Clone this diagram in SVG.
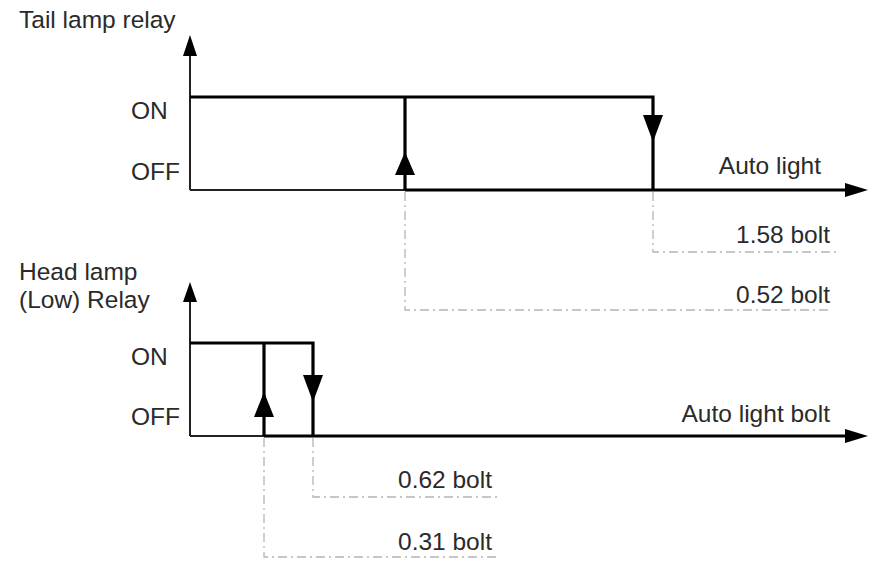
<svg xmlns="http://www.w3.org/2000/svg" width="880" height="573" viewBox="0 0 880 573">
<style>
text{font-family:"Liberation Sans",Arial,sans-serif;font-size:24.5px;fill:#2a2a2a}
.r{text-anchor:end}
.axis{stroke:#222;stroke-width:2;fill:none}
.sig{stroke:#000;stroke-width:3.2;fill:none}
.dd{stroke:#b4b4b4;stroke-width:1.3;fill:none;stroke-dasharray:9 4 2 4}
.ah{fill:#000}
</style>
<rect width="880" height="573" fill="#fff"/>
<g id="labels">
<text x="19" y="28">Tail lamp relay</text>
<text x="131" y="119">ON</text>
<text x="131" y="180">OFF</text>
<text class="r" x="821" y="174">Auto light</text>
<text class="r" x="830" y="243">1.58 bolt</text>
<text class="r" x="830" y="303">0.52 bolt</text>
<text x="19" y="280">Head lamp</text>
<text x="19" y="308">(Low) Relay</text>
<text x="131" y="365">ON</text>
<text x="131" y="425">OFF</text>
<text class="r" x="830" y="422">Auto light bolt</text>
<text class="r" x="492" y="488">0.62 bolt</text>
<text class="r" x="492" y="550">0.31 bolt</text>
</g>
<g id="connectors">
<!-- top chart axes -->
<path class="axis" d="M190 190V50M190 190H850"/>
<polygon class="ah" points="190,35 183,56 197,56"/>
<polygon class="ah" points="868,190 845,183 845,197"/>
<path class="sig" d="M190 97H653V190M405 97V190M405 190H846"/>
<polygon class="ah" points="405,152 395,175 415,175"/>
<polygon class="ah" points="653,142 643,115 663,115"/>
<path class="dd" d="M405 192V310H832M653 192V252H838"/>
<!-- bottom chart axes -->
<path class="axis" d="M190 436V296M190 436H850"/>
<polygon class="ah" points="190,282 183,302 197,302"/>
<polygon class="ah" points="868,436 845,429 845,443"/>
<path class="sig" d="M190 343H313V436M264 343V436M264 436H846"/>
<polygon class="ah" points="264,392 254,417 274,417"/>
<polygon class="ah" points="313,402 303,375 323,375"/>
<path class="dd" d="M313 438V497H498M264 438V557H498"/>
</g>
</svg>
